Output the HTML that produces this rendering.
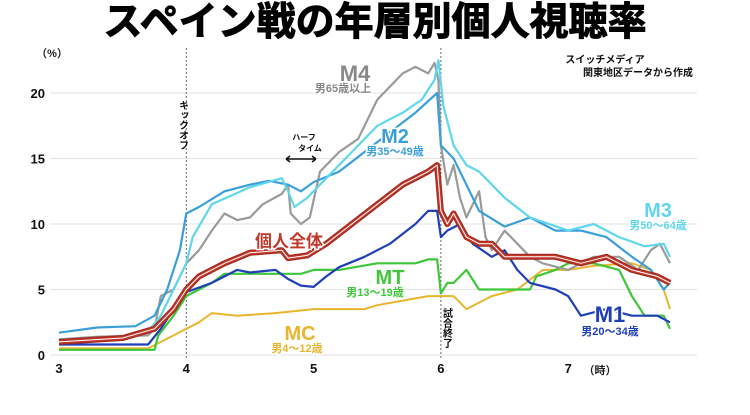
<!DOCTYPE html>
<html><head><meta charset="utf-8"><style>
body{margin:0;background:#fff;width:750px;height:410px;overflow:hidden}
text{font-family:"Liberation Sans","Noto Sans CJK JP",sans-serif;font-weight:bold}
</style></head><body>
<svg id="chart" width="750" height="410" xmlns="http://www.w3.org/2000/svg">
<text x="375" y="35" text-anchor="middle" font-size="39" fill="#000" stroke="#000" stroke-width="1" font-family="Noto Sans CJK JP" font-weight="900">スペイン戦の年層別個人視聴率</text>
<g id="grid"></g><g id="series"></g><g id="labels"></g>
</svg>
<script>
const xTicks=[3,4,5,6,7];
const yTicks=[0,5,10,15,20];
const m4T=[3,3.3,3.7,3.75,3.8,3.9,4,4.1,4.2,4.3,4.4,4.5,4.6,4.75,4.8,4.82,4.9,4.97,5.05,5.2,5.35,5.5,5.7,5.8,5.9,5.95,5.98,6,6.05,6.1,6.15,6.2,6.3,6.35,6.4,6.5,6.6,6.7,6.8,7,7.2,7.4,7.55,7.65,7.72,7.8];
const m4V=[1.2,1.4,1.5,2,4.5,5,7,8,9.5,10.8,10.3,10.5,11.5,12.3,13,10.8,10,10.5,14,15.5,16.5,19.5,21.5,22,21.5,22.3,21,16,13,14.5,12,10.5,12.5,9,8,9.5,8.5,7.5,7,6.5,7.5,7.5,6.5,8,8.5,7];
const m3T=[3,3.5,3.7,3.8,3.9,4,4.05,4.2,4.5,4.75,4.8,4.85,4.95,5.1,5.3,5.5,5.7,5.85,5.95,5.98,6.02,6.1,6.2,6.3,6.5,6.7,7,7.2,7.4,7.6,7.75,7.8];
const m3V=[1.2,1.3,1.8,3,5,7,9,11.5,12.8,13.5,12.5,11.3,12,13.5,15.5,17.5,18.5,19.5,21,22.5,19,16,14.5,14,12,10.5,9.5,10,9,8.3,8.5,7.5];
const m2T=[3,3.3,3.6,3.75,3.85,3.95,4,4.1,4.3,4.5,4.65,4.8,4.9,5,5.2,5.4,5.6,5.8,5.97,6,6.05,6.1,6.2,6.3,6.5,6.7,6.9,7.1,7.3,7.5,7.65,7.75,7.8];
const m2V=[1.7,2.1,2.2,3,5,8,10.8,11.3,12.5,13,13.3,13,12.5,13.2,14,15.5,17,18.5,20,16,15.5,15,13,11,9.8,10.5,9.5,9.5,9,7.5,6.5,5,5.5];
const allT=[3,3.5,3.75,3.9,4,4.1,4.3,4.5,4.75,4.8,4.95,5.1,5.3,5.5,5.7,5.9,5.97,6,6.05,6.1,6.2,6.3,6.4,6.5,6.7,6.9,7.1,7.3,7.5,7.7,7.8];
const allV=[1,1.3,2,3.5,5,6,7,7.8,8,7.4,7.6,8.5,10,11.5,13,14,14.5,11,10,10.8,9,8.5,8.5,7.5,7.5,7.5,7,7.5,6.5,6,5.5];
const m1T=[3,3.7,3.8,3.9,4,4.2,4.4,4.5,4.7,4.8,4.9,5,5.1,5.2,5.4,5.6,5.8,5.9,5.97,6,6.05,6.15,6.25,6.4,6.5,6.6,6.7,6.9,7,7.1,7.3,7.5,7.7,7.8];
const m1V=[0.8,0.8,2,3.5,4.8,5.5,6.5,6.3,6.5,5.8,5.3,5.2,6,6.7,7.5,8.5,10,11,11,9,9.5,10,8.5,7.5,8,6.5,5.5,5,4.5,3,3.5,3,3,2.5];
const mtT=[3,3.75,3.78,3.9,4,4.1,4.2,4.3,4.6,4.9,5,5.2,5.5,5.8,5.9,5.97,6,6.05,6.1,6.2,6.3,6.5,6.7,6.75,6.9,7,7.2,7.4,7.5,7.6,7.75,7.8];
const mtV=[0.4,0.4,1.5,3,4.5,5,5.5,6.2,6.2,6.2,6.5,6.5,7,7,7.3,7.3,4.7,5.5,5.5,6.5,5,5,5,6,6.5,7,7,6.5,4.5,3,3,2];
const mcT=[3,3.7,3.8,3.9,4,4.1,4.2,4.4,4.7,5,5.4,5.5,5.9,6,6.1,6.2,6.4,6.6,6.8,7,7.2,7.5,7.65,7.75,7.8];
const mcV=[0.5,0.5,1,1.5,2,2.5,3.2,3,3.2,3.5,3.5,3.8,4.5,4.5,4.5,3.5,4.5,5,6.5,6.5,6.8,7,6.5,5,3.5];
const NS="http://www.w3.org/2000/svg";
const xs=t=>59+(t-3)*127.3;
const ys=v=>355-v*13.1;
const grid=document.getElementById('grid'),ser=document.getElementById('series'),lab=document.getElementById('labels');
function mk(tag,attrs,parent){const e=document.createElementNS(NS,tag);for(const k in attrs)e.setAttribute(k,attrs[k]);parent.appendChild(e);return e;}
yTicks.forEach(v=>{
 const l=mk('line',{x1:50,x2:697,y1:ys(v),y2:ys(v),stroke:'#e2e2e2','stroke-width':1},grid);
 
 
 const t=mk('text',{x:45,y:ys(v)+5,'text-anchor':'end','font-size':13,fill:'#111'},grid);t.textContent=v;
 
 
});
xTicks.forEach(v=>{
 const t=mk('text',{x:xs(v),y:373,'text-anchor':'middle','font-size':13,fill:'#111'},grid);t.textContent=v;
 
 
});
[[4,'kickoff-line'],[6,'final-whistle-line']].forEach(([v,n])=>{
 const l=mk('line',{x1:xs(v),x2:xs(v),y1:48,y2:360,stroke:'#666','stroke-width':1,'stroke-dasharray':'2,2'},grid);
 
 
});
function line(T,V,color,w,name,outline){
 const d=T.map((t,i)=>(i?'L':'M')+xs(t).toFixed(1)+','+ys(V[i]).toFixed(1)).join('');
 if(outline){const o=mk('path',{d,fill:'none',stroke:outline,'stroke-width':w+2.5,'stroke-linejoin':'round'},ser);
  
  }
 const p=mk('path',{d,fill:'none',stroke:color,'stroke-width':w,'stroke-linejoin':'round'},ser);
 
 
 if(outline){const c=mk('path',{d,fill:'none',stroke:'#fff','stroke-width':1,'stroke-linejoin':'round'},ser);
  
  }
}
line(mcT,mcV,'#e8b52c',2,'series-mc');
line(mtT,mtV,'#3fc63a',2.2,'series-mt');
line(m1T,m1V,'#1f3fb8',2.2,'series-m1');
line(m4T,m4V,'#9a9a9a',2.2,'series-m4');
line(m2T,m2V,'#3a9fd8',2.2,'series-m2');
line(m3T,m3V,'#5fd6ec',2.2,'series-m3');
line(allT,allV,'#c0392b',3.5,'series-all','#a52a20');
function txt(x,y,s,size,color,name,anchor){
 const t=mk('text',{x,y,'font-size':size,fill:color,'text-anchor':anchor||'middle',stroke:'#fff','stroke-width':3,'paint-order':'stroke'},lab);t.textContent=s;
 
 
}
txt(52,57,'（%）',11,'#222','y-axis-unit');
txt(600,374,'（時）',11,'#222','x-axis-unit');
txt(355,81,'M4',22,'#888','label-m4');txt(343,92,'男65歳以上',11,'#888','label-m4-sub');
txt(395,143,'M2',20,'#3a9fd8','label-m2');txt(395,155,'男35～49歳',11,'#3a9fd8','label-m2-sub');
txt(658,217,'M3',20,'#5fd6ec','label-m3');txt(658,229,'男50～64歳',11,'#5fd6ec','label-m3-sub');
txt(289,247,'個人全体',17,'#c0392b','label-all');
txt(390,284,'MT',20,'#3fc63a','label-mt');txt(375,296,'男13～19歳',11,'#3fc63a','label-mt-sub');
txt(300,340,'MC',20,'#e8b52c','label-mc');txt(297,352,'男4～12歳',11,'#e8b52c','label-mc-sub');
txt(610,322,'M1',22,'#1f3fb8','label-m1');txt(610,335,'男20～34歳',11,'#1f3fb8','label-m1-sub');
txt(605,63,'スイッチメディア',10,'#111','source-line1');txt(638,76,'関東地区データから作成',10,'#111','source-line2');
txt(304,140,'ハーフ',8,'#111','halftime-label1');txt(310,151,'タイム',8,'#111','halftime-label2');
const arr=mk('path',{d:'M286,159 L316,159 M286,159 l4,-3 m-4,3 l4,3 M316,159 l-4,-3 m4,3 l-4,3',stroke:'#111','stroke-width':1.5,fill:'none'},lab);


const k=mk('text',{x:182,y:100,'font-size':10,fill:'#111','writing-mode':'tb'},lab);k.textContent='キックオフ';


const e=mk('text',{x:446,y:308,'font-size':10,fill:'#111','writing-mode':'tb'},lab);e.textContent='試合終了';


</script>
</body></html>
